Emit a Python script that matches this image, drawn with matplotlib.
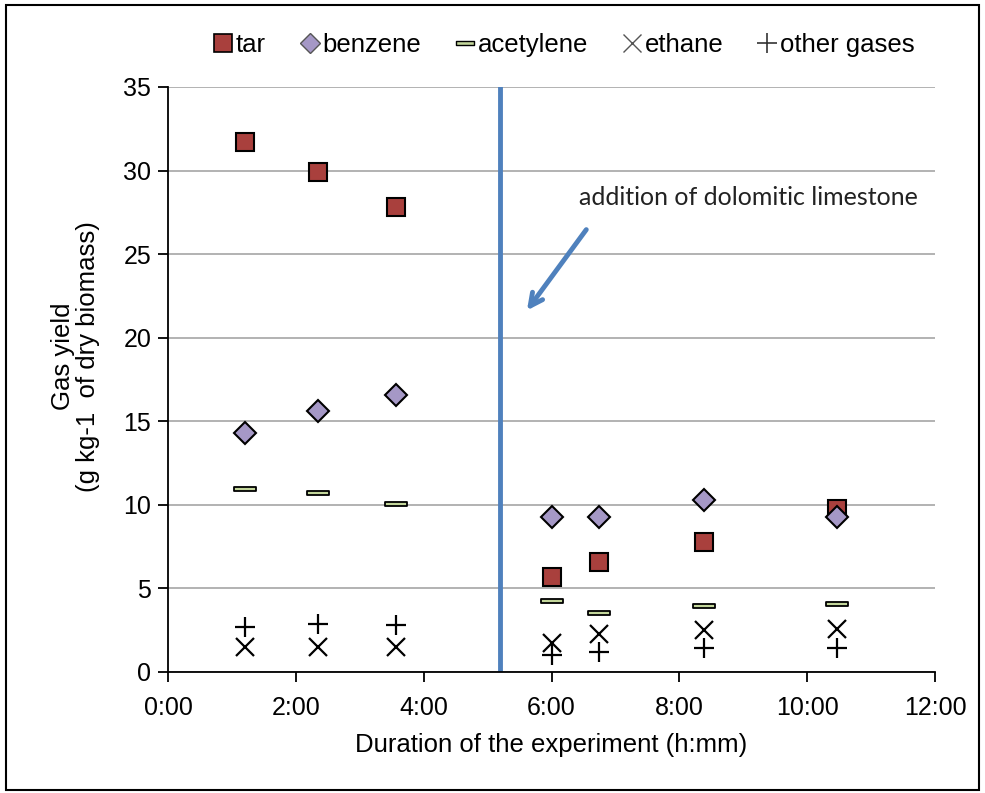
import numpy as np
import matplotlib
matplotlib.use('Agg')
import matplotlib.pyplot as plt
from matplotlib.path import Path
from matplotlib.lines import Line2D
from matplotlib.patches import Rectangle
from matplotlib.ticker import FuncFormatter, MultipleLocator

plt.rcParams['font.family'] = ['Liberation Sans', 'DejaVu Sans']

# ---------------------------------------------------------------------------
# Data (duration in hours, yields in g/kg of dry biomass)
# ---------------------------------------------------------------------------
hours = [1.2, 2.35, 3.57, 6.0, 6.75, 8.38, 10.47]
tar = [31.7, 29.9, 27.8, 5.7, 6.6, 7.8, 9.75]
benzene = [14.3, 15.6, 16.6, 9.3, 9.3, 10.3, 9.3]
acetylene = [10.95, 10.7, 10.05, 4.25, 3.55, 3.95, 4.05]
ethane = [1.5, 1.5, 1.5, 1.75, 2.3, 2.5, 2.6]
other_gases = [2.7, 2.9, 2.8, 1.0, 1.2, 1.45, 1.45]

limestone_added = 5.2  # hours

TAR_CLR = '#a9403d'
BENZ_CLR = '#a598c6'
ACET_CLR = '#c3d69b'
LINE_CLR = '#4f81bd'

# flat bar marker for acetylene
bar_marker = Path([(-1, -0.22), (1, -0.22), (1, 0.22), (-1, 0.22), (-1, -0.22)],
                  [Path.MOVETO, Path.LINETO, Path.LINETO, Path.LINETO, Path.CLOSEPOLY])

fig = plt.figure(figsize=(9.85, 7.93), dpi=100, facecolor='white')
ax = fig.add_axes([0.1706, 0.1526, 0.7786, 0.7377])

ax.axvline(limestone_added, color=LINE_CLR, lw=3.5, zorder=2)

ax.plot(hours, tar, ls='none', marker='s', ms=13, mfc=TAR_CLR, mec='black',
        mew=1.5, zorder=4, label='tar')
ax.plot(hours, benzene, ls='none', marker='D', ms=11, mfc=BENZ_CLR, mec='black',
        mew=1.5, zorder=5, label='benzene')
ax.plot(hours, acetylene, ls='none', marker=bar_marker, ms=16, mfc=ACET_CLR,
        mec='black', mew=1.3, zorder=4, label='acetylene')
ax.plot(hours, ethane, ls='none', marker='x', ms=13, mec='black', mew=1.6,
        zorder=4, label='ethane')
ax.plot(hours, other_gases, ls='none', marker='+', ms=14, mec='black', mew=1.6,
        zorder=4, label='other gases')

ax.annotate('', xy=(5.59, 21.5), xytext=(6.57, 26.6),
            arrowprops=dict(arrowstyle='->,head_length=0.9,head_width=0.45',
                            color=LINE_CLR, lw=3.5))
ax.text(11.74, 28.4, 'addition of dolomitic limestone', fontsize=18,
        family=['Lato', 'DejaVu Sans'], color='#222222', ha='right', va='center')

ax.set_xlim(0, 12)
ax.set_ylim(0, 35)
ax.xaxis.set_major_locator(MultipleLocator(2))
ax.yaxis.set_major_locator(MultipleLocator(5))
ax.xaxis.set_major_formatter(FuncFormatter(lambda v, p: f'{int(v)}:00'))
ax.grid(axis='y', color='#a6a6a6', lw=1.2, zorder=0)
ax.set_axisbelow(True)
for s in ('top', 'right'):
    ax.spines[s].set_visible(False)
for s in ('left', 'bottom'):
    ax.spines[s].set_linewidth(1.3)
ax.tick_params(axis='both', direction='out', length=7, width=1.3, labelsize=18)
ax.tick_params(axis='x', pad=10)
ax.tick_params(axis='y', pad=5)

ax.set_xlabel('Duration of the experiment (h:mm)', fontsize=18.5, labelpad=10)
ax.set_ylabel('Gas yield\n(g kg-1  of dry biomass)', fontsize=18.5,
              linespacing=1.05)
ax.yaxis.set_label_coords(-0.0887, 0.54)

handles = [
    Line2D([], [], ls='none', marker='s', ms=13, mfc=TAR_CLR, mec='black', mew=1.2),
    Line2D([], [], ls='none', marker='D', ms=10, mfc=BENZ_CLR, mec='#555555', mew=1),
    Line2D([], [], ls='none', marker=bar_marker, ms=13, mfc=ACET_CLR, mec='black', mew=1),
    Line2D([], [], ls='none', marker='x', ms=13, mec='#555555', mew=1),
    Line2D([], [], ls='none', marker='+', ms=15, mec='#333333', mew=1.2),
]
fig.legend(handles, ['tar', 'benzene', 'acetylene', 'ethane', 'other gases'],
           loc='center', bbox_to_anchor=(0.573, 0.943), ncol=5, frameon=False,
           fontsize=18.5, handlelength=0.7, handletextpad=0.15, columnspacing=1.35)

fig.patches.append(Rectangle((0.006, 0.004), 0.988, 0.99, transform=fig.transFigure,
                             fill=False, edgecolor='black', lw=1.5))

fig.savefig('out.png', dpi=100, facecolor='white')
